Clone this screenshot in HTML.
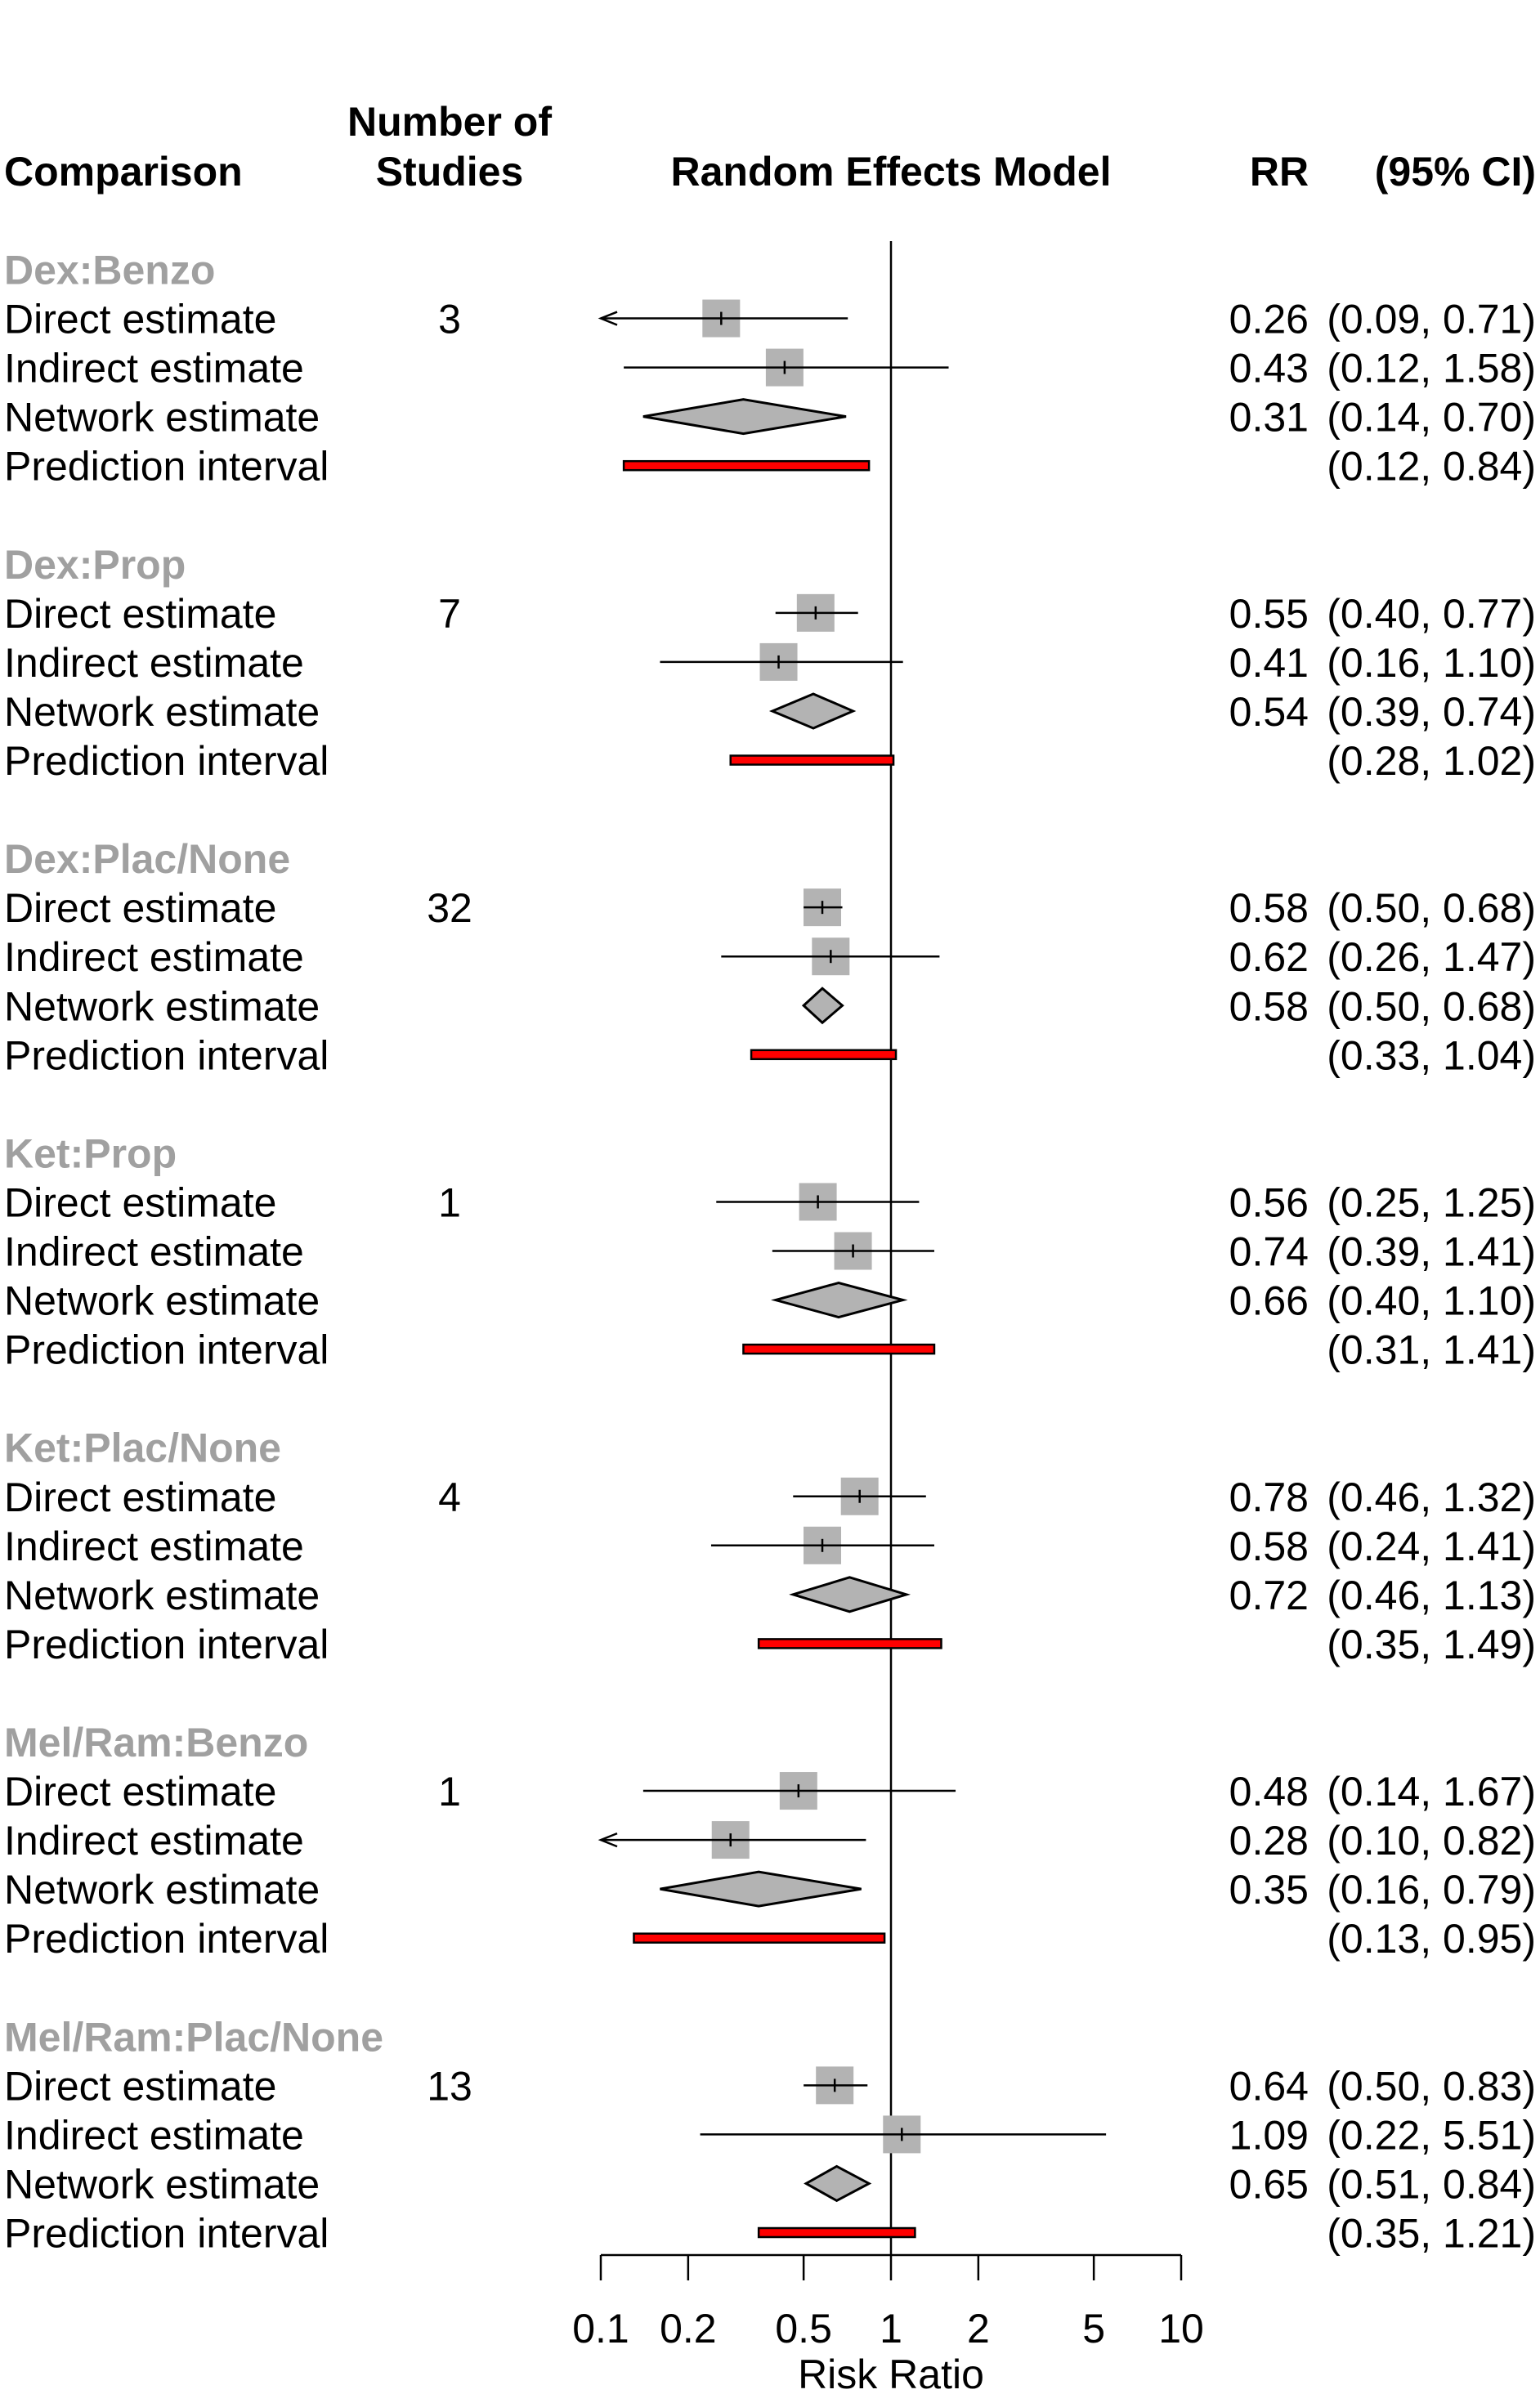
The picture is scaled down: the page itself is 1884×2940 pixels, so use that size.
<!DOCTYPE html>
<html><head><meta charset="utf-8"><style>
html,body{margin:0;padding:0;background:#fff;}
svg{display:block;font-family:"Liberation Sans",Arial,sans-serif;}
</style></head><body>
<svg id="chart" width="1884" height="2940" viewBox="0 0 1884 2940" xmlns="http://www.w3.org/2000/svg">
<g font-weight="bold" font-size="50">
<text x="5" y="227">Comparison</text>
<text x="550" y="166" text-anchor="middle">Number of</text>
<text x="550" y="227" text-anchor="middle">Studies</text>
<text x="1090" y="227" text-anchor="middle">Random Effects Model</text>
<text x="1565" y="227" text-anchor="middle">RR</text>
<text x="1879" y="227" text-anchor="end">(95% CI)</text>
</g>
<g id="plot"></g>
</svg>
<script>
const groups=["Dex:Benzo","Dex:Prop","Dex:Plac/None","Ket:Prop","Ket:Plac/None","Mel/Ram:Benzo","Mel/Ram:Plac/None"];
const nStudies=["3","7","32","1","4","1","13"];
const directEst=[0.26,0.55,0.58,0.56,0.78,0.48,0.64];
const directLo=[0.09,0.40,0.50,0.25,0.46,0.14,0.50];
const directHi=[0.71,0.77,0.68,1.25,1.32,1.67,0.83];
const indirEst=[0.43,0.41,0.62,0.74,0.58,0.28,1.09];
const indirLo=[0.12,0.16,0.26,0.39,0.24,0.098,0.22];
const indirHi=[1.58,1.10,1.47,1.41,1.41,0.82,5.51];
const netEst=[0.31,0.54,0.58,0.66,0.72,0.35,0.65];
const netLo=[0.14,0.39,0.50,0.40,0.46,0.16,0.51];
const netHi=[0.70,0.74,0.68,1.10,1.13,0.79,0.84];
const predLo=[0.12,0.28,0.33,0.31,0.35,0.13,0.35];
const predHi=[0.84,1.02,1.04,1.41,1.49,0.95,1.21];
const tickVals=[0.1,0.2,0.5,1,2,5,10];
const tickLabels=["0.1","0.2","0.5","1","2","5","10"];

const NS="http://www.w3.org/2000/svg";
const g=document.getElementById('plot');
const X=v=>1090+355*Math.log10(v);
const Y=k=>329.5+60.05*k;
const f2=v=>v.toFixed(2);
function mk(tag,attrs,parent){const e=document.createElementNS(NS,tag);for(const k in attrs)e.setAttribute(k,attrs[k]);(parent||g).appendChild(e);return e;}
function txt(s,x,y,anchor,extra){const t=mk('text',Object.assign({x:x,y:y,'font-size':50,'text-anchor':anchor||'start'},extra||{}));t.textContent=s;return t;}

const ref=mk('line',{x1:X(1),x2:X(1),y1:295,y2:2759,stroke:'#000','stroke-width':2.5});



function ciLine(lo,hi,y,name){
  const l=Math.max(lo,0.1), h=Math.min(hi,10);
  const ln=mk('line',{x1:X(l),x2:X(h),y1:y,y2:y,stroke:'#000','stroke-width':2.5});
  
  
  if(lo<0.1){const a=mk('path',{d:`M${X(0.1)+20},${y-8} L${X(0.1)},${y} L${X(0.1)+20},${y+8}`,fill:'none',stroke:'#000','stroke-width':2.5});
    
    }
}
function square(est,y,name){
  const s=mk('rect',{x:X(est)-23,y:y-23,width:46,height:46,fill:'#b3b3b3'});
  
  
  const t=mk('line',{x1:X(est),x2:X(est),y1:y-8,y2:y+8,stroke:'#000','stroke-width':2.5});
  
  
}
for(let i=0;i<groups.length;i++){
  const k0=i*6;
  const h=txt(groups[i],5,Y(k0)+18,'start',{fill:'#a0a0a0','font-weight':'bold'});
  
  
  const labels=["Direct estimate","Indirect estimate","Network estimate","Prediction interval"];
  for(let r=0;r<4;r++){const t=txt(labels[r],5,Y(k0+1+r)+18);
    
    }
  const n=txt(nStudies[i],550,Y(k0+1)+18,'middle');
  
  
  let y=Y(k0+1);
  square(directEst[i],y,'direct');ciLine(directLo[i],directHi[i],y,'direct');
  y=Y(k0+2);
  square(indirEst[i],y,'indirect');ciLine(indirLo[i],indirHi[i],y,'indirect');
  y=Y(k0+3);
  const d=mk('polygon',{points:`${X(netLo[i])},${y} ${X(netEst[i])},${y-21} ${X(netHi[i])},${y} ${X(netEst[i])},${y+21}`,fill:'#b3b3b3',stroke:'#000','stroke-width':3});
  
  
  y=Y(k0+4);
  const p=mk('rect',{x:X(predLo[i]),y:y-5.5,width:X(predHi[i])-X(predLo[i]),height:11,fill:'#ff0000',stroke:'#000','stroke-width':2.5});
  
  
  const rows=[[directEst[i],directLo[i],directHi[i]],[indirEst[i],indirLo[i],indirHi[i]],[netEst[i],netLo[i],netHi[i]]];
  rows.forEach((v,r)=>{
    const yy=Y(k0+1+r)+18;
    const a=txt(f2(v[0]),1601,yy,'end');
    
    
    const b=txt(`(${f2(v[1])}, ${f2(v[2])})`,1879,yy,'end');
    
    
  });
  const pc=txt(`(${f2(predLo[i])}, ${f2(predHi[i])})`,1879,Y(k0+4)+18,'end');
  
  
}
const ax=mk('line',{x1:X(0.1),x2:X(10),y1:2759,y2:2759,stroke:'#000','stroke-width':2.5});


tickVals.forEach((v,i)=>{
  const t=mk('line',{x1:X(v),x2:X(v),y1:2759,y2:2790,stroke:'#000','stroke-width':2.5});
  
  
  const l=txt(tickLabels[i],X(v),2866,'middle');
  
  
});
const at=txt('Risk Ratio',X(1),2922,'middle');


</script>
</body></html>
